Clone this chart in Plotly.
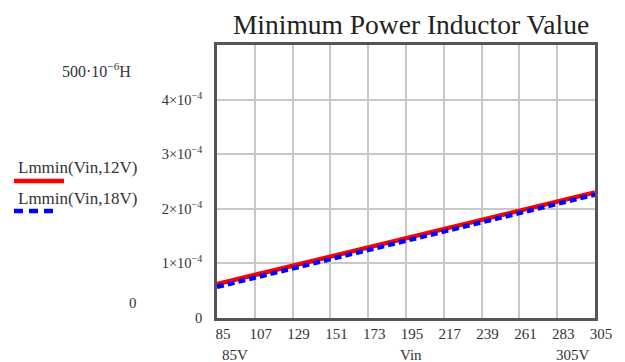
import plotly.graph_objects as go

# Input voltage sweep (V) and minimum inductance (H) for the two output voltages
vin = [85, 107, 129, 151, 173, 195, 217, 239, 261, 283, 305]
lmin_12v = [0.62e-4, 0.79e-4, 0.96e-4, 1.13e-4, 1.30e-4, 1.47e-4,
            1.63e-4, 1.80e-4, 1.96e-4, 2.13e-4, 2.30e-4]
lmin_18v = [0.57e-4, 0.74e-4, 0.91e-4, 1.08e-4, 1.25e-4, 1.42e-4,
            1.59e-4, 1.76e-4, 1.92e-4, 2.09e-4, 2.26e-4]

x_ticks = vin
y_ticks = [0, 1e-4, 2e-4, 3e-4, 4e-4]
y_tick_text = ["0", "1×10<sup>−4</sup>", "2×10<sup>−4</sup>",
               "3×10<sup>−4</sup>", "4×10<sup>−4</sup>"]

W, H = 625, 362
ML, MR, MT, MB = 217, 30, 45, 44
PW, PH = W - ML - MR, H - MT - MB
FONT = "Liberation Serif"


def px(x):
    return (x - ML) / PW


def py(y):
    return (H - MB - y) / PH


fig = go.Figure()
fig.add_trace(go.Scatter(x=vin, y=lmin_12v, mode="lines",
                         line=dict(color="#ff0000", width=4.5),
                         showlegend=False))
fig.add_trace(go.Scatter(x=vin, y=lmin_18v, mode="lines",
                         line=dict(color="#0000ff", width=4.5, dash="7px,4px"),
                         showlegend=False))

fig.update_layout(
    width=W, height=H,
    margin=dict(l=ML, r=MR, t=MT, b=MB, pad=0),
    paper_bgcolor="white", plot_bgcolor="white",
    font=dict(family=FONT, size=15, color="#333333"),
    title=dict(text="Minimum Power Inductor Value",
               font=dict(family=FONT, size=27.5, color="#222222"),
               x=411 / W, xanchor="center", y=1 - 24 / H, yanchor="middle"),
    xaxis=dict(range=[85, 305], tickvals=x_ticks,
               ticktext=[str(v) for v in x_ticks],
               showgrid=True, gridcolor="#c8c8c8", gridwidth=1.5,
               zeroline=False, showline=True, linecolor="#555555",
               linewidth=2.5, mirror=True, ticks="", ticklabelshift=6,
               ticklabelstandoff=0, tickfont=dict(size=15)),
    yaxis=dict(range=[0, 5e-4], tickvals=y_ticks, ticktext=y_tick_text,
               showgrid=True, gridcolor="#c8c8c8", gridwidth=1.5,
               zeroline=False, showline=True, linecolor="#555555",
               linewidth=2.5, mirror=True, ticks="", ticklabelstandoff=9,
               tickfont=dict(size=14.5)),
)

# Axis limit and range labels
annots = [
    ("500·10<sup>−6</sup>H", 60, 70, "left", 16),
    ("0", 127, 303, "left", 15),
    ("85V", 220, 355, "left", 15),
    ("Vin", 411, 355, "center", 15),
    ("305V", 554, 355, "left", 15),
    ("Lmmin(Vin,12V)", 16, 167, "left", 17),
    ("Lmmin(Vin,18V)", 16, 198, "left", 17),
]
for text, x, y, anchor, size in annots:
    fig.add_annotation(text=text, x=px(x), y=py(y), xref="paper", yref="paper",
                       xanchor=anchor, yanchor="middle", showarrow=False,
                       font=dict(family=FONT, size=size, color="#333333"))

# Legend line samples
fig.add_shape(type="line", xref="paper", yref="paper",
              x0=px(14), x1=px(64), y0=py(181), y1=py(181),
              line=dict(color="#ff0000", width=4.5))
fig.add_shape(type="line", xref="paper", yref="paper",
              x0=px(14), x1=px(57), y0=py(211), y1=py(211),
              line=dict(color="#0000ff", width=4.5, dash="9px,6px"))

fig.write_html("out.html")
